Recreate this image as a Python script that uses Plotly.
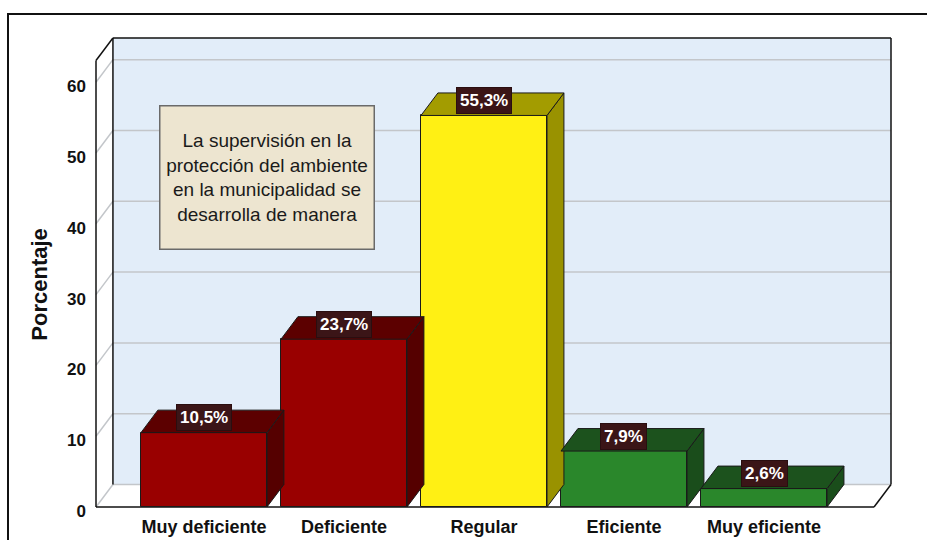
import plotly.graph_objects as go

# ---------------- data ----------------
categorias = ["Muy deficiente", "Deficiente", "Regular", "Eficiente", "Muy eficiente"]
porcentajes = [10.5, 23.7, 55.3, 7.9, 2.6]
etiquetas = ["10,5%", "23,7%", "55,3%", "7,9%", "2,6%"]
y_ticks = [0, 10, 20, 30, 40, 50, 60]
titulo_y = "Porcentaje"
caja_texto = "La supervisión en la<br>protección del ambiente<br>en la municipalidad se<br>desarrolla de manera"

# ---------------- style ----------------
front_colors = ["#990000", "#990000", "#fff014", "#2a872b", "#2a872b"]
top_colors = ["#5c0000", "#5c0000", "#a39c00", "#1c521d", "#1c521d"]
side_colors = ["#550000", "#550000", "#999200", "#1a4d1b", "#1a4d1b"]
FONT = "Liberation Sans, Arial, sans-serif"

W, H = 927, 540
PXX, PXY = 140.0, 7.08          # pixels per x unit / y unit
xl, xr = -0.771, 4.907          # front-left and back-right x of the 3D box
ymax = 66.24                     # top of back wall
DX, DY = 0.121, 3.18             # depth offsets
BW = 0.9
PAD = 5
xr_range = [xl - PAD / PXX, xr + PAD / PXX]
yr_range = [-PAD / PXY, ymax + PAD / PXY]
L, R, T, B = 91, 31, 33, 28

x_pos = list(range(len(categorias)))

fig = go.Figure()

# front faces
fig.add_trace(go.Bar(
    x=x_pos, y=porcentajes, width=BW,
    marker=dict(color=front_colors, line=dict(color="#1a1a1a", width=1)),
    hoverinfo="skip", showlegend=False,
))

# side & top faces derived from the data
for c, v, tc, sc in zip(x_pos, porcentajes, top_colors, side_colors):
    x0, x1 = c - BW / 2, c + BW / 2
    fig.add_trace(go.Scatter(
        x=[x1, x1 + DX, x1 + DX, x1, x1], y=[0, DY, v + DY, v, 0],
        mode="lines", fill="toself", fillcolor=sc,
        line=dict(color="#1a1a1a", width=1), hoverinfo="skip", showlegend=False,
    ))
    fig.add_trace(go.Scatter(
        x=[x0, x1, x1 + DX, x0 + DX, x0], y=[v, v, v + DY, v + DY, v],
        mode="lines", fill="toself", fillcolor=tc,
        line=dict(color="#1a1a1a", width=1), hoverinfo="skip", showlegend=False,
    ))

shapes = []
# back wall
shapes.append(dict(type="rect", xref="x", yref="y", x0=xl + DX, x1=xr, y0=DY, y1=ymax,
                   fillcolor="#e2edf9", line=dict(width=0), layer="below"))
grid = dict(color="#c3c6ca", width=1.5)
for v in y_ticks:
    shapes.append(dict(type="line", xref="x", yref="y", x0=xl, y0=v, x1=xl + DX, y1=v + DY,
                       line=grid, layer="below"))
    shapes.append(dict(type="line", xref="x", yref="y", x0=xl + DX, y0=v + DY, x1=xr, y1=v + DY,
                       line=grid, layer="below"))
dark = dict(color="#111111", width=1.5)
edges = [
    (xl, 0, xr - DX, 0),
    (xr - DX, 0, xr, DY),
    (xr, DY, xr, ymax),
    (xl + DX, ymax, xr, ymax),
    (xl + DX, DY, xl + DX, ymax),
    (xl, 0, xl, ymax - DY),
    (xl, ymax - DY, xl + DX, ymax),
]
for a, b, c_, d in edges:
    shapes.append(dict(type="line", xref="x", yref="y", x0=a, y0=b, x1=c_, y1=d,
                       line=dark, layer="below"))
# outer frame
shapes.append(dict(type="rect", xref="paper", yref="paper",
                   x0=(8 - L) / (W - L - R), x1=(945 - L) / (W - L - R),
                   y0=-(560 - (H - B)) / (H - T - B), y1=((H - B) - 14) / (H - T - B),
                   line=dict(color="#111111", width=2), fillcolor="rgba(0,0,0,0)", layer="below"))

annotations = []
for c, v, t in zip(x_pos, porcentajes, etiquetas):
    annotations.append(dict(
        x=c, y=v, xref="x", yref="y", text=t, showarrow=False, yshift=15,
        font=dict(family=FONT, size=17, color="#ffffff", weight="bold"),
        bgcolor="#3b1517", bordercolor="#2a0e10", borderwidth=1, borderpad=3,
    ))

annotations.append(dict(
    x=(40 - L) / (W - L - R), xref="paper", y=31.4, yref="y", text=titulo_y,
    textangle=-90, showarrow=False, xanchor="center", yanchor="middle",
    font=dict(family=FONT, size=22, color="#111111", weight="bold"),
))

annotations.append(dict(
    x=0.45, y=46.6, xref="x", yref="y", text=caja_texto, showarrow=False,
    width=211, height=140, align="center", valign="middle",
    font=dict(family=FONT, size=19, color="#1a1a1a"),
    bgcolor="#ede5d0", bordercolor="#6a6a6a", borderwidth=1.5, borderpad=1,
))

fig.update_layout(
    width=W, height=H,
    margin=dict(l=L, r=R, t=T, b=B, pad=0, autoexpand=False),
    paper_bgcolor="#ffffff", plot_bgcolor="#ffffff",
    shapes=shapes, annotations=annotations, bargap=0,
    xaxis=dict(range=xr_range, tickvals=x_pos, ticktext=categorias, automargin=False,
               showgrid=False, zeroline=False, showline=False, ticks="",
               ticklabelstandoff=2,
               tickfont=dict(family=FONT, size=18, color="#111111", weight="bold")),
    yaxis=dict(range=yr_range, tickvals=y_ticks, ticktext=[str(v) for v in y_ticks],
               automargin=False,
               showgrid=False, zeroline=False, showline=False, ticks="",
               ticklabelstandoff=4, ticklabelshift=4,
               tickfont=dict(family=FONT, size=17, color="#111111", weight="bold")),
)

fig.write_html("out.html", config={"displayModeBar": False},
               post_script="document.body.style.margin='0px';document.body.style.padding='0px';")
